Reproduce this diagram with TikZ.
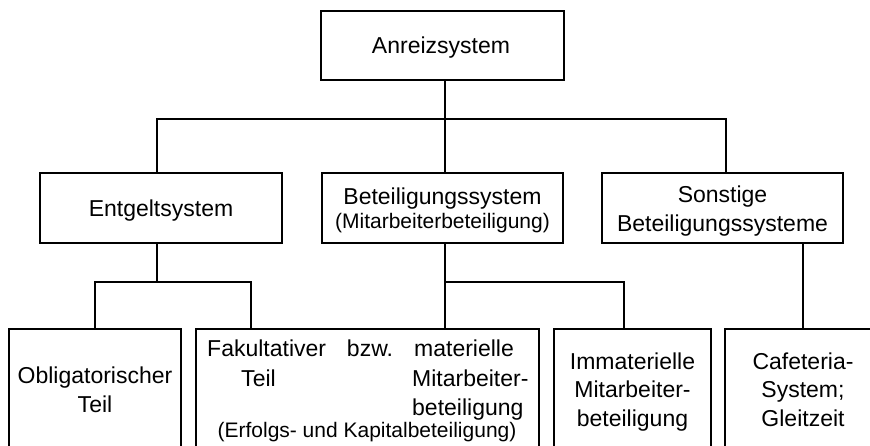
\documentclass[tikz,border=0pt]{standalone}
\usepackage{fontspec}
\setmainfont{Liberation Sans}
\begin{document}
\begin{tikzpicture}[x=1pt,y=-1pt,
  box/.style={draw,line width=2pt,inner sep=0pt,rectangle},
  conn/.style={line width=1.8pt},
  txt/.style={inner sep=0pt,font=\fontsize{23}{27}\selectfont},
  stxt/.style={inner sep=0pt,font=\fontsize{21}{25}\selectfont}]
\useasboundingbox (0,0) rectangle (870,446);
\clip (0,0) rectangle (870,446);
% boxes
\node[box,minimum width=243pt,minimum height=69pt] (top) at (442.5,45.5) {};
\node[box,minimum width=242pt,minimum height=70pt] (ent) at (161,208) {};
\node[box,minimum width=241pt,minimum height=70pt] (bet) at (442.5,208) {};
\node[box,minimum width=241pt,minimum height=70pt] (son) at (722.5,208) {};
\node[box,minimum width=172pt,minimum height=123pt] (obl) at (95,390.5) {};
\node[box,minimum width=343pt,minimum height=123pt] (fak) at (367.5,390.5) {};
\node[box,minimum width=157pt,minimum height=123pt] (imm) at (632.5,390.5) {};
\node[box,minimum width=156pt,minimum height=123pt] (caf) at (803,390.5) {};
% texts
\node[txt,anchor=base] (t1) at (441,54) {Anreizsystem};
\node[txt,anchor=base] (t2) at (161,217) {Entgeltsystem};
\node[txt,anchor=base] (t3) at (442.5,205) {Beteiligungssystem};
\node[stxt,anchor=base] (t4) at (442.5,229) {(Mitarbeiterbeteiligung)};
\node[txt,anchor=base] (t5) at (722.5,203) {Sonstige};
\node[txt,anchor=base] (t6) at (722.5,232) {Beteiligungssysteme};
\node[txt,anchor=base] (t7) at (95,383.5) {Obligatorischer};
\node[txt,anchor=base] (t8) at (95,412) {Teil};
\node[txt,anchor=base west] (t9) at (207,356) {Fakultativer};
\node[txt,anchor=base] (t10) at (370,356) {bzw.};
\node[txt,anchor=base west] (t11) at (414,356) {materielle};
\node[txt,anchor=base] (t12) at (258.5,386) {Teil};
\node[txt,anchor=base west] (t13) at (412,386) {Mitarbeiter-};
\node[txt,anchor=base west] (t14) at (412,415) {beteiligung};
\node[stxt,anchor=base] (t15) at (367,437) {(Erfolgs- und Kapitalbeteiligung)};
\node[txt,anchor=base] (t16) at (632.5,369) {Immaterielle};
\node[txt,anchor=base] (t17) at (632.5,397.5) {Mitarbeiter-};
\node[txt,anchor=base] (t18) at (632.5,426) {beteiligung};
\node[txt,anchor=base] (t19) at (803,369) {Cafeteria-};
\node[txt,anchor=base] (t20) at (803,397.5) {System;};
\node[txt,anchor=base] (t21) at (803,426) {Gleitzeit};
% junctions
\coordinate (jA) at (445,119);
\coordinate (jE) at (157,119);
\coordinate (jS) at (726,119);
\coordinate (jF) at (251,282);
\coordinate (jI) at (624,282);
\coordinate (jEb) at (157,282);
% connectors
\draw[conn] (top.south -| jA) -- (jA);
\draw[conn] (ent.north -| jE) -- (jE) -- (jS) -- (son.north -| jS);
\draw[conn] (jA) -- (bet.north -| jA);
\draw[conn] (ent.south -| jE) -- (jEb);
\draw[conn] (obl.north) |- (jF) -- (fak.north -| jF);
\draw[conn] (bet.south -| jA) -- (fak.north -| jA);
\draw[conn] (jA |- jI) -- (jI) -- (imm.north -| jI);
\draw[conn] (son.south -| caf.north) -- (caf.north);
\end{tikzpicture}
\end{document}
